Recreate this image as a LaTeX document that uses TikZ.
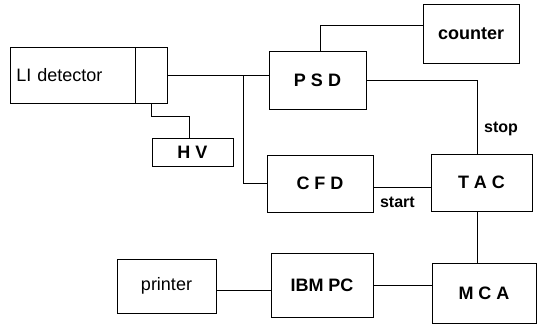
\documentclass[tikz,border=0pt]{standalone}
\usepackage{fontspec}
\setmainfont{Liberation Sans}
\usepackage{tikz}
\usetikzlibrary{positioning,calc}

\tikzset{
    blk/.style={draw, line width=0.8pt, inner sep=0pt, font=\fontsize{18}{20}\selectfont\bfseries},
    wire/.style={line width=0.8pt},
}

\begin{document}
\begin{tikzpicture}[x=1pt, y=-1pt]
        \useasboundingbox (0,0) rectangle (540,324);
        % Detector com a janela
        \node[blk, minimum width=125pt, minimum height=56pt, font=\fontsize{18}{20}\selectfont, anchor=west, inner sep=6pt, text width=113pt] (det) at (10,75) {LI detector};
        \node[blk, minimum width=32pt, minimum height=56pt] (detend) at (151,75) {};
        \node[blk, minimum width=81pt, minimum height=28pt] (hv) at (192.5,152) {H V};
        % Bloco superior
        \node[blk, minimum width=97pt, minimum height=58pt] (psd) at (317.5,80) {P S D};
        \node[blk, minimum width=96pt, minimum height=59pt] (counter) at (471,33.5) {counter};
        % Bloco do meio
        \node[blk, minimum width=106pt, minimum height=57pt] (cfd) at (320,183.5) {C F D};
        \node[blk, minimum width=101pt, minimum height=57pt] (tac) at (481.5,182.5) {T A C};
        % Bloco inferior
        \node[blk, minimum width=99pt, minimum height=54pt, font=\fontsize{18}{20}\selectfont] (printer) at (166.5,286) {printer};
        \node[blk, minimum width=102pt, minimum height=64pt] (ibm) at (322,285) {IBM PC};
        \node[blk, minimum width=104pt, minimum height=60pt] (mca) at (484,293) {M C A};
        % Ligacoes
        \coordinate (split) at (243,75);
        \draw[wire] (detend.east) -- (detend.east -| psd.west);
        \draw[wire] (split) |- (cfd.west);
        \draw[wire] (detend.south) -- ++(0,13) -| ([xshift=-3pt]hv.north);
        \draw[wire] ([yshift=8pt]counter.west) -| ([xshift=3pt]psd.north);
        \draw[wire] (psd.east) -| ([xshift=-4pt]tac.north)
            node[pos=0.83, right=3pt, font=\fontsize{16}{18}\selectfont\bfseries] {stop};
        \draw[wire] ([yshift=-4pt]cfd.east) -- ([yshift=-4pt]cfd.east -| tac.west)
            node[pos=0.42, below=6pt, font=\fontsize{16}{18}\selectfont\bfseries] {start};
        \draw[wire] ([xshift=-4pt]tac.south) -- ([xshift=-4pt]tac.south |- mca.north);
        \draw[wire] (ibm.east) -- (ibm.east -| mca.west);
        \draw[wire] ([yshift=-4pt]printer.east) -- ([yshift=-4pt]printer.east -| ibm.west);
    \end{tikzpicture}
\end{document}
